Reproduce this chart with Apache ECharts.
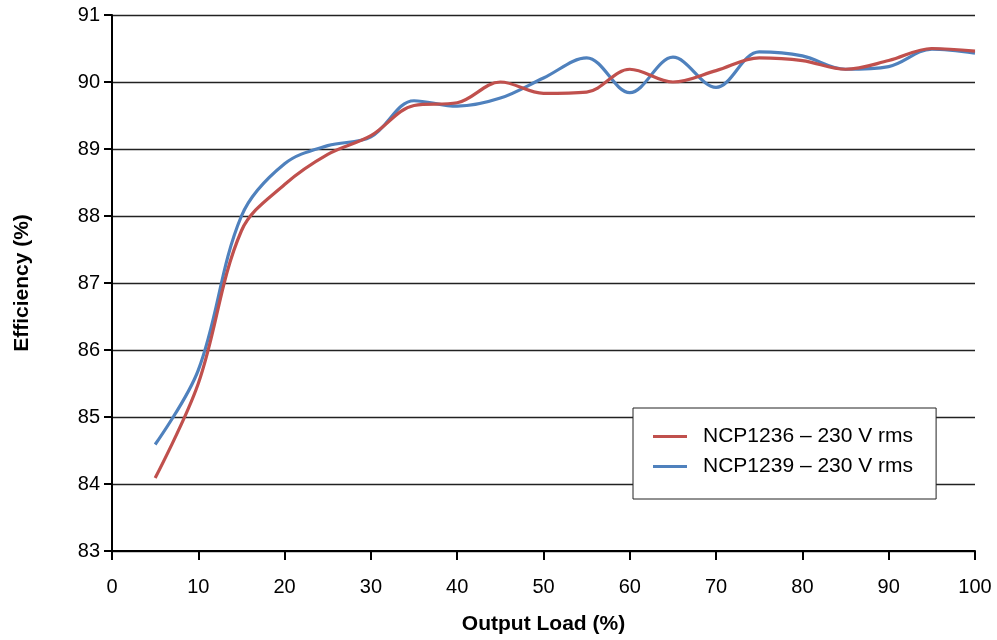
<!DOCTYPE html>
<html><head><meta charset="utf-8">
<script src="https://cdn.jsdelivr.net/npm/echarts@6/dist/echarts.min.js"></script>
<style>html,body{margin:0;padding:0;background:#fff}#c{width:997px;height:640px}</style>
</head><body><div id="c"></div>
<script>
const loads = [5,10,15,20,25,30,35,40,45,50,55,60,65,70,75,80,85,90,95,100];
const ncp1236 = [84.09,85.5,87.78,88.47,88.92,89.2,89.65,89.69,90.0,89.83,89.85,90.19,90.0,90.17,90.36,90.32,90.19,90.32,90.5,90.46];
const ncp1239 = [84.59,85.7,88.0,88.78,89.05,89.18,89.72,89.64,89.76,90.06,90.36,89.84,90.37,89.92,90.45,90.39,90.19,90.23,90.49,90.43];
const yTicks = [83,84,85,86,87,88,89,90,91];
const xTicks = [0,10,20,30,40,50,60,70,80,90,100];
const names = ['NCP1236 \u2013 230 V rms','NCP1239 \u2013 230 V rms'];
const colors = ['#c0504d','#4f81bd'];
const font = 'Liberation Sans, Arial, sans-serif';
const chart = echarts.init(document.getElementById('c'));
chart.setOption({
  animation:false,
  grid:{left:112,right:22,top:15,bottom:87},
  legend:{
    orient:'vertical', left:633, top:408,
    itemWidth:34, itemHeight:3, itemGap:9,
    padding:[18,23,22,20],
    backgroundColor:'#fff', borderColor:'#222', borderWidth:1,
    textStyle:{fontFamily:font,fontSize:21,color:'#000',padding:[0,0,0,11]},
    icon:'rect',
    data:names
  },
  xAxis:{
    type:'value', min:0, max:100, interval:10,
    name:'Output Load (%)', nameLocation:'middle', nameGap:63,
    nameTextStyle:{fontFamily:font,fontSize:21,fontWeight:'bold',color:'#000'},
    axisLine:{lineStyle:{color:'#000',width:2}},
    axisTick:{show:true,length:9,lineStyle:{color:'#000',width:2}},
    axisLabel:{fontFamily:font,fontSize:20,color:'#000',margin:26},
    splitLine:{show:false}
  },
  yAxis:{
    type:'value', min:83, max:91, interval:1,
    name:'Efficiency (%)', nameLocation:'middle', nameGap:79, nameRotate:90,
    nameTextStyle:{fontFamily:font,fontSize:21,fontWeight:'bold',color:'#000'},
    axisLine:{show:true,lineStyle:{color:'#000',width:2}},
    axisTick:{show:true,length:8,lineStyle:{color:'#000',width:2}},
    axisLabel:{fontFamily:font,fontSize:20,color:'#000',margin:12},
    splitLine:{show:true,lineStyle:{color:'#222',width:1.3}}
  },
  series:[
    {name:names[0],type:'line',smooth:0.35,showSymbol:false,data:loads.map((x,i)=>[x,ncp1236[i]]),lineStyle:{color:colors[0],width:3.2},itemStyle:{color:colors[0]},z:3},
    {name:names[1],type:'line',smooth:0.35,showSymbol:false,data:loads.map((x,i)=>[x,ncp1239[i]]),lineStyle:{color:colors[1],width:3.2},itemStyle:{color:colors[1]},z:2}
  ]
});
</script></body></html>
